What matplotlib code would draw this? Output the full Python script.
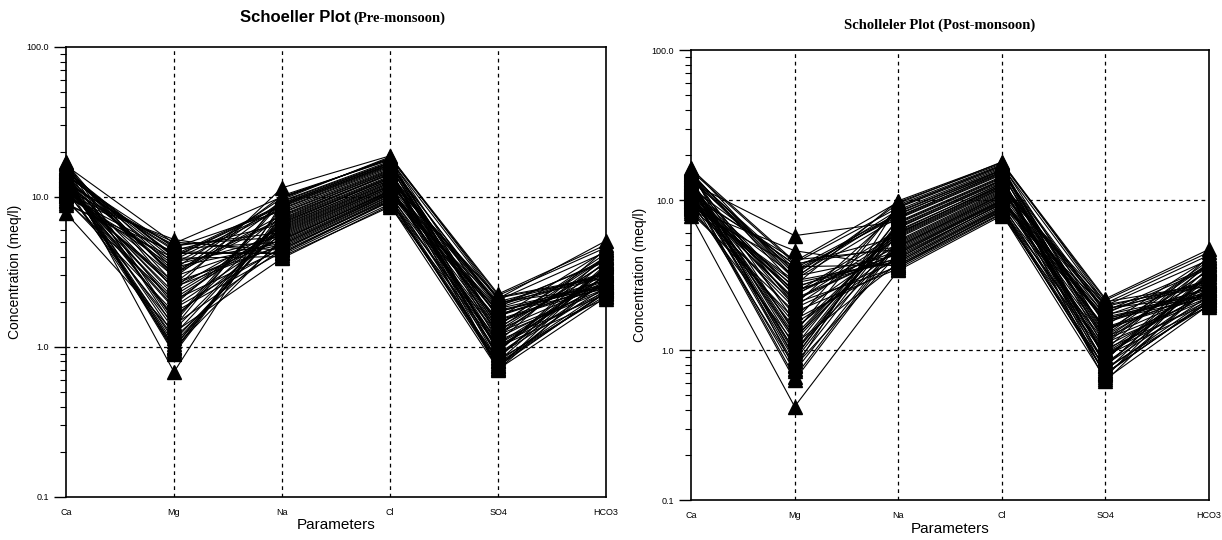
import numpy as np
import matplotlib.pyplot as plt
from matplotlib.ticker import FixedLocator, LogLocator, NullFormatter

# Ion names along the x axis
ions = ['Ca', 'Mg', 'Na', 'Cl', 'SO4', 'HCO3']

# Pre-monsoon concentrations (meq/l), one entry per well
pre_ca = [12.4, 14.1, 10.8, 13.2, 15.6, 11.5, 9.8, 12.9, 16.8, 13.7,
          10.2, 11.9, 14.6, 12.1, 9.1, 13.4, 15.1, 11.2, 12.7, 17.2,
          10.5, 13.9, 12.2, 14.8, 11.6, 8.9, 13.1, 15.9, 12.5, 10.9,
          14.3, 11.3, 12.8, 16.2, 9.6, 13.6, 11.8, 14.9, 12.0, 7.8,
          13.3, 10.7, 15.3, 12.6, 11.1, 14.4, 9.4, 13.0, 16.5, 12.3,
          10.3, 14.0, 11.7, 13.8, 15.5, 10.1, 12.9, 14.7, 11.4, 13.5]
pre_mg = [1.3, 4.1, 2.6, 0.95, 3.3, 1.8, 5.2, 1.1, 2.4, 4.6,
          3.7, 1.6, 0.68, 2.0, 3.9, 1.2, 3.0, 4.8, 2.2, 1.5,
          5.0, 1.9, 3.5, 0.92, 2.1, 4.3, 1.0, 2.9, 4.5, 1.4,
          3.6, 2.5, 1.05, 4.9, 1.7, 3.2, 0.98, 4.0, 2.3, 1.25,
          3.1, 2.7, 1.45, 4.4, 1.15, 3.8, 2.05, 2.45, 1.35, 4.7,
          3.4, 0.9, 1.85, 3.05, 2.65, 4.2, 1.55, 3.95, 2.95, 1.0]
pre_na = [6.8, 8.9, 5.2, 7.4, 9.8, 4.6, 4.1, 6.2, 11.5, 8.1,
          4.9, 5.7, 9.1, 6.5, 4.0, 7.0, 10.2, 5.4, 6.0, 9.6,
          4.4, 7.8, 5.5, 8.6, 5.9, 4.2, 6.7, 9.4, 5.0, 4.5,
          8.3, 4.8, 6.4, 10.0, 4.3, 7.2, 5.3, 8.8, 6.1, 3.9,
          7.6, 4.7, 9.3, 6.6, 5.1, 8.4, 4.5, 6.3, 9.9, 5.8,
          4.8, 7.9, 5.6, 7.1, 9.0, 4.2, 6.9, 8.7, 5.2, 7.5]
pre_cl = [13.2, 16.4, 10.9, 14.1, 18.2, 10.1, 9.0, 12.5, 18.8, 15.3,
          10.6, 11.8, 16.9, 12.9, 8.6, 13.8, 17.6, 11.3, 12.2, 18.5,
          9.8, 14.9, 11.5, 16.1, 12.0, 9.3, 13.5, 17.3, 10.7, 9.6,
          15.6, 10.4, 13.0, 17.9, 9.4, 14.4, 11.1, 16.6, 12.4, 8.8,
          14.7, 10.2, 17.0, 13.3, 11.0, 15.9, 9.9, 12.7, 18.0, 11.9,
          10.5, 15.1, 11.6, 14.2, 16.8, 9.5, 13.6, 16.3, 10.8, 14.6]
pre_so4 = [1.05, 1.85, 1.5, 0.95, 2.2, 1.2, 0.82, 1.7, 2.1, 0.72,
           1.25, 0.9, 1.4, 1.95, 1.0, 0.7, 2.05, 1.15, 1.6, 2.25,
           1.02, 0.8, 1.3, 1.9, 0.75, 1.1, 2.0, 0.92, 1.75, 0.78,
           1.28, 0.88, 2.15, 1.55, 0.76, 0.98, 1.8, 1.18, 1.62, 0.71,
           0.86, 1.98, 1.38, 0.97, 1.72, 1.22, 0.8, 2.12, 1.08, 1.45,
           1.66, 0.84, 1.04, 1.88, 1.32, 0.74, 1.82, 0.94, 1.52, 1.35]
pre_hco3 = [3.0, 3.8, 2.5, 3.2, 4.6, 2.4, 2.2, 2.8, 5.1, 3.5,
            2.45, 2.7, 4.0, 2.9, 2.1, 3.1, 4.3, 2.6, 2.75, 4.8,
            2.35, 3.4, 2.65, 3.7, 2.85, 2.25, 3.05, 4.1, 2.55, 2.3,
            3.6, 2.5, 2.95, 4.4, 2.3, 3.3, 2.6, 3.9, 2.8, 2.15,
            3.45, 2.5, 4.2, 3.0, 2.55, 3.65, 2.4, 2.9, 4.5, 2.7,
            2.45, 3.55, 2.7, 3.15, 3.95, 2.35, 3.1, 3.75, 2.6, 3.25]

# Post-monsoon concentrations (meq/l)
post_ca = [11.8, 13.6, 10.2, 12.5, 15.4, 9.6, 8.8, 11.3, 16.5, 13.0,
           9.9, 11.0, 14.2, 12.1, 7.9, 12.8, 15.0, 10.6, 11.6, 16.1,
           9.3, 13.3, 10.8, 14.5, 11.2, 8.5, 12.3, 15.7, 10.0, 9.1,
           13.9, 10.4, 12.0, 15.9, 8.7, 13.1, 10.9, 14.7, 11.5, 8.2,
           12.7, 9.7, 14.9, 12.2, 10.5, 13.8, 9.4, 11.9, 15.2, 11.1,
           9.8, 13.4, 10.7, 12.6, 14.4, 9.0, 12.4, 14.1, 10.3, 13.2]
post_mg = [1.2, 3.4, 2.2, 0.85, 2.7, 1.9, 4.6, 0.72, 3.0, 5.8,
           1.5, 1.0, 2.0, 3.7, 0.42, 2.4, 1.3, 4.0, 1.7, 3.9,
           2.9, 0.9, 1.4, 3.5, 0.63, 1.6, 2.3, 3.8, 0.78, 1.1,
           1.05, 3.1, 2.1, 0.75, 3.6, 1.25, 2.6, 3.3, 0.66, 1.8,
           0.95, 2.5, 3.2, 1.15, 2.15, 0.88, 2.8, 1.95, 1.55, 3.75,
           2.65, 0.98, 2.35, 1.35, 3.05, 2.05, 0.8, 2.95, 2.45, 1.2]
post_na = [5.9, 7.8, 4.5, 6.6, 9.9, 4.0, 3.6, 5.4, 9.5, 7.2,
           4.2, 5.0, 8.4, 5.7, 3.4, 6.3, 9.1, 4.7, 5.2, 9.7,
           3.9, 7.0, 4.8, 8.1, 5.1, 3.7, 6.0, 8.9, 4.4, 3.8,
           7.5, 4.3, 5.8, 9.3, 3.7, 6.5, 4.6, 8.0, 5.3, 3.5,
           6.8, 4.1, 8.6, 6.1, 4.5, 7.6, 3.9, 5.6, 9.0, 4.9,
           4.1, 7.1, 4.9, 6.2, 8.3, 3.6, 6.0, 7.7, 4.4, 6.7]
post_cl = [12.3, 15.2, 9.9, 13.2, 17.8, 9.0, 8.2, 11.6, 18.0, 14.4,
           9.5, 10.8, 16.0, 12.0, 7.9, 12.9, 16.9, 10.3, 11.2, 17.5,
           8.8, 14.0, 10.5, 15.5, 11.0, 8.4, 12.6, 16.6, 9.7, 8.7,
           14.8, 9.4, 12.1, 17.2, 8.5, 13.5, 10.1, 15.8, 11.4, 8.1,
           13.7, 9.2, 16.3, 12.4, 10.0, 15.0, 8.9, 11.8, 17.0, 10.9,
           9.6, 14.2, 10.6, 13.0, 15.9, 8.6, 12.7, 15.4, 9.8, 13.6]
post_so4 = [0.98, 1.75, 1.4, 0.88, 2.2, 1.12, 0.76, 1.6, 2.05, 0.66,
            1.18, 0.82, 1.32, 1.88, 0.92, 0.62, 1.98, 1.06, 1.52, 2.15,
            0.95, 0.72, 1.22, 1.82, 0.68, 1.02, 1.95, 0.85, 1.66, 0.7,
            1.2, 0.8, 2.1, 1.45, 0.7, 0.9, 1.72, 1.1, 1.55, 0.64,
            0.78, 1.9, 1.3, 0.9, 1.62, 1.15, 0.74, 2.0, 1.0, 1.36,
            1.58, 0.78, 0.96, 1.8, 1.26, 0.69, 1.7, 0.86, 1.42, 1.25]
post_hco3 = [2.8, 3.5, 2.3, 3.0, 4.7, 2.2, 2.0, 2.6, 4.3, 3.3,
             2.25, 2.5, 3.8, 2.7, 1.95, 2.9, 4.0, 2.4, 2.55, 4.5,
             2.15, 3.2, 2.45, 3.6, 2.65, 2.05, 2.85, 3.9, 2.35, 2.1,
             3.4, 2.3, 2.75, 4.1, 2.1, 3.1, 2.4, 3.7, 2.6, 2.0,
             3.25, 2.3, 3.95, 2.8, 2.35, 3.45, 2.2, 2.7, 4.2, 2.5,
             2.25, 3.35, 2.5, 2.95, 3.75, 2.15, 2.9, 3.55, 2.4, 3.05]

plt.rcParams['font.family'] = ['Liberation Sans', 'DejaVu Sans']


def schoeller(ax, columns):
    # one polyline per sample across the six ions
    table = np.column_stack(columns)
    x = np.arange(len(ions))
    for row in table:
        ax.plot(x, row, color='black', linewidth=0.8, marker='^',
                markersize=10, markerfacecolor='black',
                markeredgecolor='black', clip_on=False, zorder=3)

    ax.set_yscale('log')
    ax.set_ylim(0.1, 100)
    ax.set_xlim(0, len(ions) - 1)
    ax.set_xticks(x)
    ax.set_xticklabels(ions, fontsize=6.5)
    ax.tick_params(axis='x', length=0, pad=8)

    ax.yaxis.set_major_locator(FixedLocator([0.1, 1, 10, 100]))
    ax.set_yticklabels(['0.1', '1.0', '10.0', '100.0'], fontsize=6.5)
    ax.yaxis.set_minor_locator(LogLocator(base=10, subs=np.arange(2, 10)))
    ax.yaxis.set_minor_formatter(NullFormatter())
    ax.tick_params(axis='y', which='major', length=9, width=1, direction='out')
    ax.tick_params(axis='y', which='minor', length=4, width=0.8, direction='out')

    # dashed reference grid
    for xi in x[1:-1]:
        ax.axvline(xi, color='black', linestyle=(0, (3, 3)), linewidth=0.9, zorder=1)
    for yi in [1, 10]:
        ax.axhline(yi, color='black', linestyle=(0, (3, 3)), linewidth=0.9, zorder=1)

    for side in ax.spines.values():
        side.set_linewidth(1.2)
    ax.spines['left'].set_zorder(4)

    ax.set_xlabel('Parameters', fontsize=11, labelpad=1)
    ax.set_ylabel('Concentration (meq/l)', fontsize=10, labelpad=3)


fig = plt.figure(figsize=(12.22, 5.40), dpi=100)
ax1 = fig.add_axes([0.054, 0.080, 0.442, 0.833])
ax2 = fig.add_axes([0.5655, 0.074, 0.4239, 0.833])

schoeller(ax1, [pre_ca, pre_mg, pre_na, pre_cl, pre_so4, pre_hco3])
schoeller(ax2, [post_ca, post_mg, post_na, post_cl, post_so4, post_hco3])

# titles: sans name with serif season on the left, all serif on the right
fig.text(0.287, 0.960, 'Schoeller Plot', ha='right', va='baseline',
         fontsize=12, fontweight='bold', family=['Liberation Sans'])
fig.text(0.289, 0.960, '(Pre-monsoon)', ha='left', va='baseline',
         fontsize=10.5, fontweight='bold', family=['Liberation Serif'])
fig.text(0.769, 0.947, 'Scholleler Plot (Post-monsoon)', ha='center',
         va='baseline', fontsize=10.5, fontweight='bold',
         family=['Liberation Serif'])

fig.savefig('out.png', dpi=100)
